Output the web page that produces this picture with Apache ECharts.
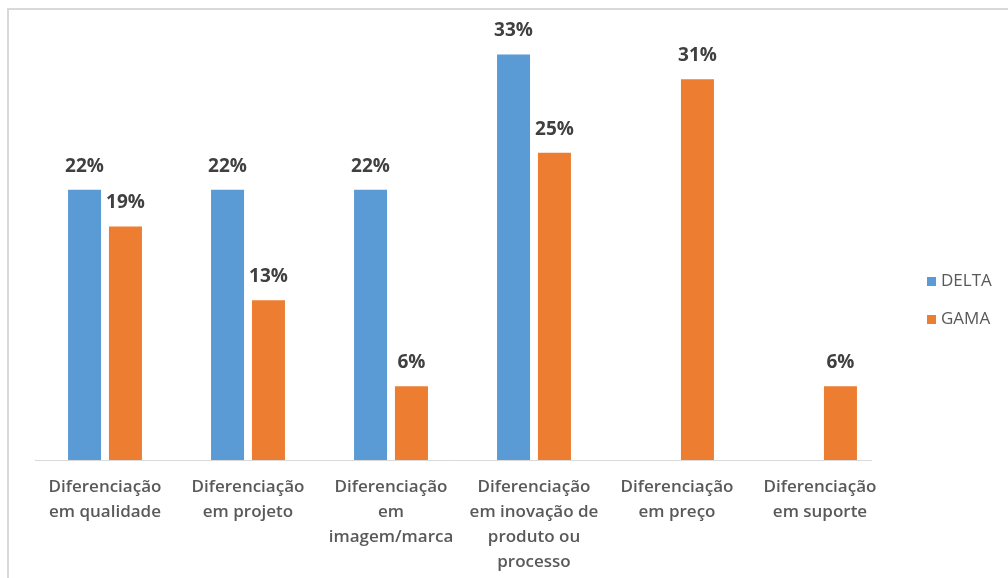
<!DOCTYPE html>
<html>
<head>
<meta charset="utf-8">
<style>
  html, body { margin: 0; padding: 0; background: #ffffff; }
  #chart { width: 1008px; height: 578px; }
</style>
<script src="https://cdn.jsdelivr.net/npm/echarts@6/dist/echarts.min.js"></script>
</head>
<body>
<div id="chart"></div>
<script>
// Differentiation strategies, share of respondents (%)
const categories = [
  'Diferenciação\nem qualidade',
  'Diferenciação\nem projeto',
  'Diferenciação\nem\nimagem/marca',
  'Diferenciação\nem inovação de\nproduto ou\nprocesso',
  'Diferenciação\nem preço',
  'Diferenciação\nem suporte'
];
const deltaValues = [22, 22, 22, 33, null, null];
const gamaValues = [19, 13, 6, 25, 31, 6];
const seriesNames = ['DELTA', 'GAMA'];

const FONT = '"Open Sans", "Noto Sans", sans-serif';

const valueLabel = {
  show: true,
  position: 'top',
  distance: 14,
  fontFamily: FONT,
  fontSize: 19,
  fontWeight: 'bold',
  color: '#404040',
  formatter: p => (p.value == null ? '' : p.value + '%')
};

const chart = echarts.init(document.getElementById('chart'), null, { renderer: 'canvas' });
chart.setOption({
  backgroundColor: '#ffffff',
  animation: false,
  graphic: [
    {
      // outer frame of the chart area
      type: 'rect',
      shape: { x: 8, y: 9, width: 1200, height: 800 },
      style: { fill: 'none', stroke: '#d9d9d9', lineWidth: 2 },
      silent: true
    },
    {
      // baseline under the bars
      type: 'line',
      shape: { x1: 35, y1: 460.5, x2: 872, y2: 460.5 },
      style: { stroke: '#d9d9d9', lineWidth: 1 },
      silent: true
    }
  ],
  legend: {
    orient: 'vertical',
    left: 922,
    top: 268,
    itemWidth: 9,
    itemHeight: 9,
    itemGap: 21,
    icon: 'rect',
    textStyle: { fontFamily: FONT, fontSize: 17, color: '#595959' },
    data: seriesNames
  },
  grid: { left: 33.5, right: 116.5, top: 30, bottom: 118, containLabel: false },
  xAxis: {
    type: 'category',
    data: categories,
    axisLine: { show: false },
    axisTick: { show: false },
    axisLabel: {
      interval: 0,
      margin: 15,
      fontFamily: FONT,
      fontSize: 17,
      fontWeight: 600,
      lineHeight: 25,
      color: '#595959',
      align: 'center'
    }
  },
  yAxis: {
    type: 'value',
    min: 0,
    max: 35,
    show: false,
    splitLine: { show: false }
  },
  series: [
    {
      name: seriesNames[0],
      type: 'bar',
      data: deltaValues,
      itemStyle: { color: '#5B9BD5' },
      barWidth: 33,
      barGap: '24%',
      label: valueLabel
    },
    {
      name: seriesNames[1],
      type: 'bar',
      data: gamaValues,
      itemStyle: { color: '#ED7D31' },
      barWidth: 33,
      label: valueLabel
    }
  ]
});
</script>
</body>
</html>
